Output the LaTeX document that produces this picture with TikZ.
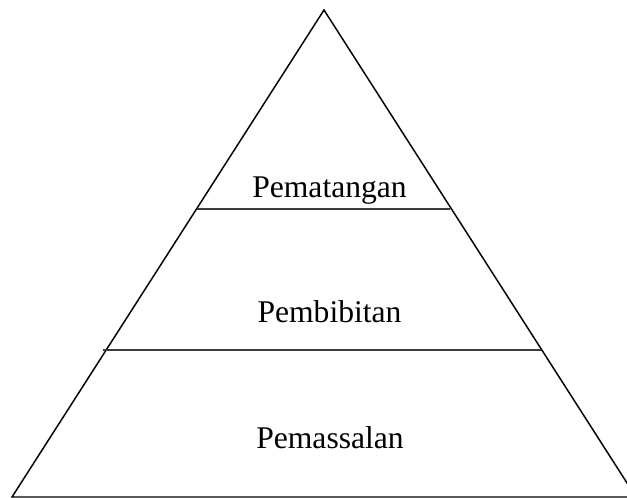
\documentclass[tikz,border=0pt]{standalone}
\usepackage{fontspec}
\setmainfont{Liberation Serif}
\begin{document}
\begin{tikzpicture}[x=0.75pt,y=0.75pt,yscale=-1,xscale=1]
\useasboundingbox (0,0) rectangle (627,498);

%Shape: Triangle [id:dp1]
\draw [line width=1.1pt]  (324,10) -- (636,497) -- (12,497) -- cycle ;
%Straight Lines [id:da1]
\draw [color={rgb,255:red,60;green,60;blue,60}, line width=1pt]   (197,209) -- (450,209) ;
%Straight Lines [id:da2]
\draw [color={rgb,255:red,60;green,60;blue,60}, line width=1pt]   (103,350) -- (541,350) ;

% Text Node
\draw (329.5,198) node [anchor=base, font=\fontsize{23.7}{28}\selectfont] (top) {Pematangan};
% Text Node
\draw (329.5,323) node [anchor=base, font=\fontsize{23.7}{28}\selectfont] (mid) {Pembibitan};
% Text Node
\draw (330,448) node [anchor=base, font=\fontsize{23.7}{28}\selectfont] (bot) {Pemassalan};

\end{tikzpicture}
\end{document}
